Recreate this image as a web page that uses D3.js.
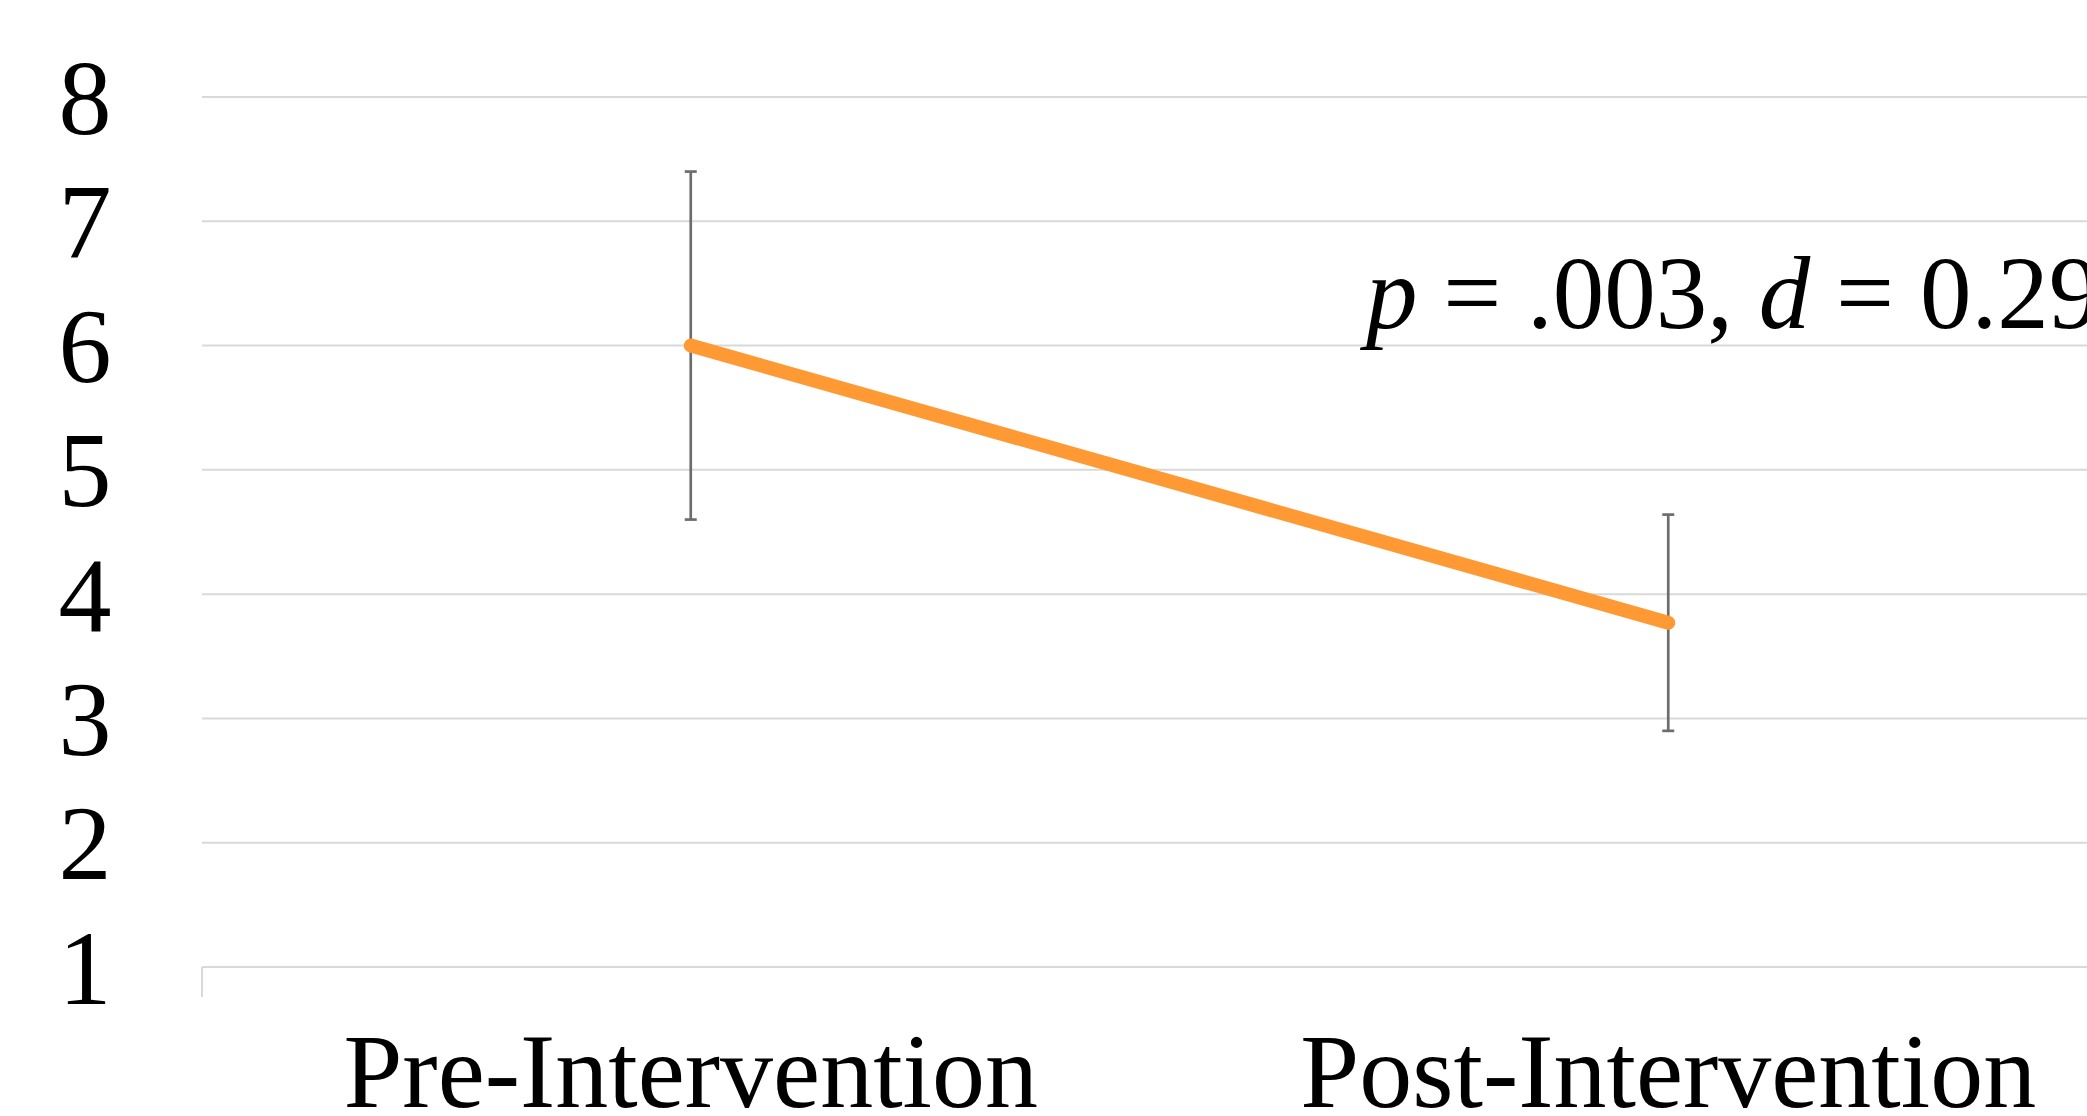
<!DOCTYPE html>
<html>
<head>
<meta charset="utf-8">
<script src="https://cdn.jsdelivr.net/npm/d3@7"></script>
<style>
  html, body { margin: 0; padding: 0; background: #fff; overflow: hidden; }
  svg { display: block; }
  text { font-family: "Liberation Serif", "Times New Roman", serif; fill: #000; }
</style>
</head>
<body>
<svg id="chart" width="2087" height="1116"></svg>
<script>
const categories = ["Pre-Intervention", "Post-Intervention"];
const means = [6.0, 3.77];
const errUpper = [7.40, 4.64];
const errLower = [4.60, 2.90];
const yTicks = [1, 2, 3, 4, 5, 6, 7, 8];
const annotation = { p: ".003", d: "0.29" };

const svg = d3.select("#chart");
const W = 2087, H = 1116;
const plotLeft = 202, plotRight = 2157, plotTop = 97, plotBottom = 967;

const x = d3.scaleBand().domain(categories).range([plotLeft, plotRight]).padding(0);
const y = d3.scaleLinear().domain([1, 8]).range([plotBottom, plotTop]);

// gridlines
svg.append("g").selectAll("line").data(yTicks).join("line")
  .attr("x1", plotLeft).attr("x2", W + 100)
  .attr("y1", d => y(d)).attr("y2", d => y(d))
  .attr("stroke", "#d9d9d9").attr("stroke-width", 2);

// left tick below axis
svg.append("line")
  .attr("x1", plotLeft).attr("x2", plotLeft)
  .attr("y1", y(1)).attr("y2", y(1) + 30)
  .attr("stroke", "#d9d9d9").attr("stroke-width", 2);

// y tick labels
svg.append("g").selectAll("text").data(yTicks).join("text")
  .attr("x", 85).attr("y", d => y(d))
  .attr("dy", "0.345em")
  .attr("text-anchor", "middle")
  .attr("font-size", 106)
  .text(d => d);

// x labels
svg.append("g").selectAll("text").data(categories).join("text")
  .attr("x", d => x(d) + x.bandwidth() / 2)
  .attr("y", 1107)
  .attr("text-anchor", "middle")
  .attr("font-size", 106)
  .text(d => d);

const cx = (i) => x(categories[i]) + x.bandwidth() / 2;

// error bars
const eb = svg.append("g").attr("stroke", "#6d6d6d").attr("stroke-width", 2.7);
categories.forEach((c, i) => {
  eb.append("line").attr("x1", cx(i)).attr("x2", cx(i))
    .attr("y1", y(errUpper[i])).attr("y2", y(errLower[i]));
  eb.append("line").attr("x1", cx(i) - 6).attr("x2", cx(i) + 6)
    .attr("y1", y(errUpper[i])).attr("y2", y(errUpper[i]));
  eb.append("line").attr("x1", cx(i) - 6).attr("x2", cx(i) + 6)
    .attr("y1", y(errLower[i])).attr("y2", y(errLower[i]));
});

// line
const line = d3.line().x((d, i) => cx(i)).y(d => y(d));
svg.append("path").datum(means)
  .attr("d", line)
  .attr("fill", "none")
  .attr("stroke", "#ff9933")
  .attr("stroke-width", 14)
  .attr("stroke-linecap", "round")
  .attr("stroke-linejoin", "round");

// annotation
const t = svg.append("text")
  .attr("x", 1366).attr("y", 328)
  .attr("font-size", 103);
t.append("tspan").attr("font-style", "italic").text("p");
t.append("tspan").text(" = " + annotation.p + ", ");
t.append("tspan").attr("font-style", "italic").text("d");
t.append("tspan").text(" = " + annotation.d);
</script>
</body>
</html>
